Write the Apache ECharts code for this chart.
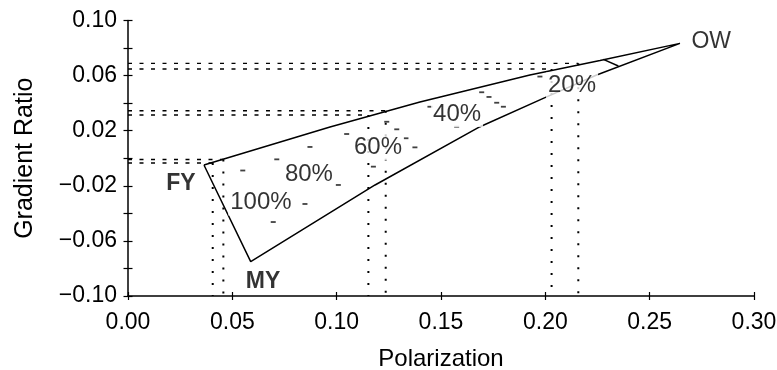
<!DOCTYPE html>
<html>
<head>
<meta charset="utf-8">
<script src="https://cdn.jsdelivr.net/npm/echarts@6/dist/echarts.min.js"></script>
<style>
  html, body { margin: 0; padding: 0; background: #fff; }
  #chart { width: 777px; height: 370px; }
</style>
</head>
<body>
<div id="chart"></div>
<script>
// Polarization (PR) versus gradient ratio (GR) mixing diagram for
// open water (OW), first-year ice (FY) and multiyear ice (MY).

// Upper boundary, OW-FY mixing curve (from FY to OW)
const upperEdgePR = [0.0364, 0.0968, 0.1399, 0.1926, 0.2262, 0.2645];
const upperEdgeGR = [-0.0049, 0.0227, 0.0408, 0.0604, 0.0710, 0.0834];
// Lower boundary, OW-MY mixing curve (from OW to MY)
const lowerEdgePR = [0.2645, 0.2246, 0.1990, 0.1687, 0.1184, 0.0588];
const lowerEdgeGR = [0.0834, 0.0604, 0.0435, 0.0229, -0.0194, -0.0751];

// Points projected onto both axes with dotted guide lines
const projPR = [0.0406, 0.0457, 0.1152, 0.1235, 0.2030, 0.2158];
const projGR = [-0.0035, -0.0009, 0.0314, 0.0345, 0.0648, 0.0689];

// Short solid cross-tie near OW
const tiePR = [0.2278, 0.2350];
const tieGR = [0.0718, 0.0670];

// Short dash marks inside the diagram
const dashPR = [0.0550, 0.0713, 0.0872, 0.1048, 0.0696, 0.0848, 0.1008, 0.1176,
                0.1240, 0.1288, 0.1332, 0.1375, 0.1575, 0.1447,
                0.1695, 0.1730, 0.1767, 0.1799, 0.1974];
const dashGR = [-0.0089, -0.0008, 0.0082, 0.0176, -0.0463, -0.0332, -0.0194, -0.0061,
                0.0265, 0.0210, 0.0145, 0.0079, 0.0229, 0.0374,
                0.0479, 0.0445, 0.0403, 0.0374, 0.0593];

// Surface-type labels
const typeNames = ['OW', 'FY', 'MY'];
const typePR = [0.2795, 0.0254, 0.0647];
const typeGR = [0.0844, -0.0185, -0.0898];
const typeBold = [false, true, true];

// Ice concentration labels
const pctNames = ['20%', '40%', '60%', '80%', '100%'];
const pctPR = [0.2128, 0.1577, 0.1198, 0.0867, 0.0637];
const pctGR = [0.0528, 0.0321, 0.0078, -0.0114, -0.0321];

// Axes
const xMin = 0, xMax = 0.30, xStep = 0.05;
const yMin = -0.10, yMax = 0.10, yStep = 0.02;
const xTickLabels = ['0.00', '0.05', '0.10', '0.15', '0.20', '0.25', '0.30'];
const yTickLabels = ['\u22120.10', '', '\u22120.06', '', '\u22120.02', '', '0.02', '', '0.06', '', '0.10'];

const FONT = '"Liberation Sans", Arial, Helvetica, sans-serif';
const INK = '#000';

const zip = (a, b) => a.map((v, i) => [v, b[i]]);

const outline = zip(upperEdgePR, upperEdgeGR)
  .concat(zip(lowerEdgePR, lowerEdgeGR).slice(1))
  .concat([[upperEdgePR[0], upperEdgeGR[0]]]);

const series = [];

// dotted guides to the axes
projPR.forEach((pr, i) => {
  const gr = projGR[i];
  series.push({
    type: 'line', z: 1, symbol: 'none', silent: true, animation: false,
    data: [[xMin, gr], [pr, gr]],
    lineStyle: { color: INK, width: 1.4, type: [4, 7.5] }
  });
  series.push({
    type: 'line', z: 1, symbol: 'none', silent: true, animation: false,
    data: [[pr, gr], [pr, yMin]],
    lineStyle: { color: INK, width: 2, type: [2, 10] }
  });
});

// outline of the mixing region
series.push({
  type: 'line', z: 2, symbol: 'none', silent: true, animation: false,
  data: outline,
  lineStyle: { color: '#000', width: 1.5 }
});

// cross-tie near OW
series.push({
  type: 'line', z: 2, symbol: 'none', silent: true, animation: false,
  data: zip(tiePR, tieGR),
  lineStyle: { color: '#000', width: 1.5 }
});

// dash marks
series.push({
  type: 'scatter', z: 3, silent: true, animation: false,
  symbol: 'rect', symbolSize: [5, 1.8],
  itemStyle: { color: '#111' },
  data: zip(dashPR, dashGR)
});

// surface-type labels
series.push({
  type: 'scatter', z: 5, silent: true, animation: false,
  symbolSize: 1, itemStyle: { color: 'transparent' },
  data: typeNames.map((n, i) => ({
    name: n, value: [typePR[i], typeGR[i]],
    label: { fontWeight: typeBold[i] ? 'bold' : 'normal' }
  })),
  label: {
    show: true, position: 'inside', formatter: '{b}',
    fontSize: 23, color: INK, fontFamily: FONT
  }
});

// concentration labels on white boxes
series.push({
  type: 'scatter', z: 6, silent: true, animation: false,
  symbolSize: 1, itemStyle: { color: 'transparent' },
  data: pctNames.map((n, i) => ({ name: n, value: [pctPR[i], pctGR[i]] })),
  label: {
    show: true, position: 'inside', formatter: '{b}',
    fontSize: 24, color: INK, fontFamily: FONT,
    backgroundColor: '#fff', padding: [1, 2]
  }
});

const chart = echarts.init(document.getElementById('chart'), null, { renderer: 'canvas' });
chart.setOption({
  backgroundColor: '#fff',
  animation: false,
  grid: { left: 128, right: 23, top: 20.5, bottom: 74, containLabel: false, outerBoundsMode: 'none' },
  xAxis: [
    {
      type: 'value', min: xMin, max: xMax, interval: xStep,
      name: 'Polarization', nameLocation: 'middle', nameGap: 51,
      nameTextStyle: { fontSize: 24, color: INK, fontFamily: FONT },
      axisLine: { show: true, onZero: false, lineStyle: { color: '#000', width: 1.5 } },
      axisTick: { show: true, length: 4, lineStyle: { color: '#000', width: 1.2 } },
      axisLabel: {
        margin: 15, fontSize: 23, color: INK, fontFamily: FONT,
        formatter: v => xTickLabels[Math.round((v - xMin) / xStep)]
      },
      splitLine: { show: false }
    },
    {
      type: 'value', min: xMin, max: xMax, interval: xStep, position: 'bottom', offset: 0,
      axisLine: { show: false, onZero: false },
      axisTick: { show: true, inside: true, length: 4, lineStyle: { color: '#000', width: 1.2 } },
      axisLabel: { show: false }, splitLine: { show: false }
    }
  ],
  yAxis: [
    {
      type: 'value', min: yMin, max: yMax, interval: yStep,
      name: 'Gradient Ratio', nameLocation: 'middle', nameGap: 90, nameRotate: 90,
      nameTextStyle: { fontSize: 25, color: INK, fontFamily: FONT },
      axisLine: { show: true, onZero: false, lineStyle: { color: '#000', width: 1.5 } },
      axisTick: { show: true, length: 4.5, lineStyle: { color: '#000', width: 1.2 } },
      axisLabel: {
        margin: 11, fontSize: 23, color: INK, fontFamily: FONT,
        formatter: v => yTickLabels[Math.round((v - yMin) / yStep)]
      },
      splitLine: { show: false }
    },
    {
      type: 'value', min: yMin, max: yMax, interval: yStep, position: 'left', offset: 0,
      axisLine: { show: false, onZero: false },
      axisTick: { show: true, inside: true, length: 4.5, lineStyle: { color: '#000', width: 1.2 } },
      axisLabel: { show: false }, splitLine: { show: false }
    }
  ],
  series: series
});
</script>
</body>
</html>
